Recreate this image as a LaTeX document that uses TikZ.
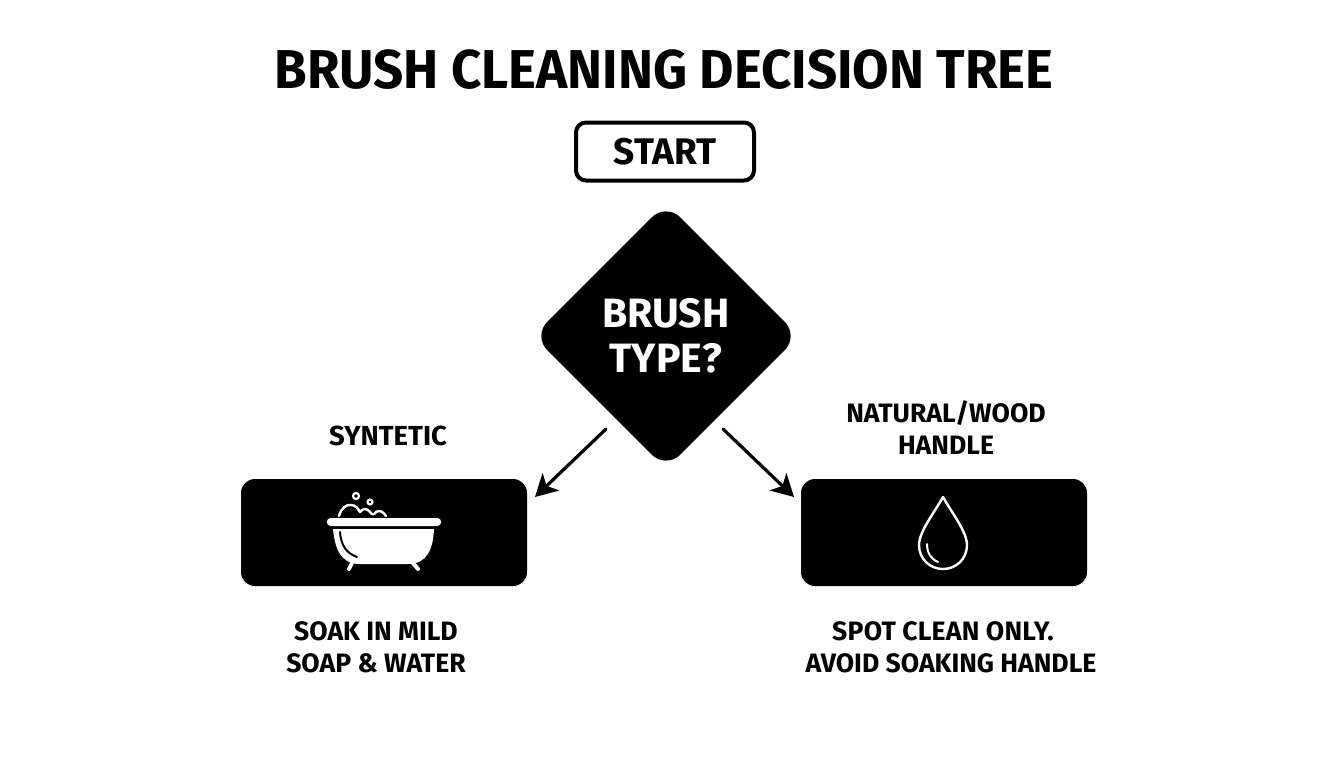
\documentclass[tikz,border=0pt]{standalone}
\usepackage{fontspec}
\setmainfont{Fira Sans}[BoldFont={Fira Sans Bold}]
\usetikzlibrary{shapes.geometric,arrows.meta}
\tikzset{
  lbl/.style={font=\bfseries\fontsize{26.6}{32}\selectfont, text=black, align=center, inner sep=0pt},
  panel/.style={fill=black, rounded corners=14pt, minimum width=286pt, minimum height=107pt, inner sep=0pt},
  conn/.style={line width=3.2pt, line cap=round, -{Stealth[length=22pt,width=24pt,inset=6pt]}},
  ico/.style={draw=white, line width=2.4pt, line cap=round, line join=round}
}
\begin{document}
\begin{tikzpicture}[x=1pt,y=-1pt]
\useasboundingbox (0,0) rectangle (1344,768);
\fill[white] (0,0) rectangle (1344,768);
\node[lbl,font=\bfseries\fontsize{54.7}{60}\selectfont\addfontfeature{FakeStretch=0.966}] (title) at (664,70) {BRUSH CLEANING DECISION TREE};
\node[draw=black,line width=4pt,rounded corners=10pt,minimum width=178pt,minimum height=58pt,inner sep=0pt,font=\bfseries\fontsize{37}{44}\selectfont] (start) at (665,151.5) {START};
\node[diamond,fill=black,rounded corners=20pt,minimum width=266pt,minimum height=266pt,inner sep=0pt,text=white,align=center,font=\bfseries\fontsize{41}{45}\selectfont] (dec) at (666,336) {BRUSH\\TYPE?};
\node[panel] (soak) at (384,532.5) {};
\node[panel] (spot) at (944,532.5) {};
\node[lbl,font=\bfseries\fontsize{27.5}{32}\selectfont] (lsyn) at (388,436) {SYNTETIC};
\node[lbl] (lnat) at (946,428) {NATURAL/WOOD\\HANDLE};
\node[lbl] (tsoak) at (376,647.5) {SOAK IN MILD\\SOAP \& WATER};
\node[lbl] (tspot) at (951,647.5) {{\addfontfeature{LetterSpace=0.8}SPOT CLEAN ONLY.}\hspace*{16pt}\\AVOID SOAKING HANDLE};
\coordinate (a1) at (606,429); \coordinate (a2) at (535,497);
\coordinate (b1) at (723,429); \coordinate (b2) at (794,497);
\draw[conn] (a1) -- (a2);
\draw[conn] (b1) -- (b2);
% bathtub
\fill[white,rounded corners=3.5pt] (327,518) rectangle (441,526);
\fill[white] (333,529) -- (434,529) .. controls (433,548) and (428,564) .. (408,564) -- (360,564) .. controls (340,564) and (335,548) .. (333,529) -- cycle;
\draw[black,line width=2pt,line cap=round] (340,532) .. controls (341,545) and (346,553) .. (357,557);
\draw[ico,line width=4pt] (352,563) -- (349,569);
\draw[ico,line width=4pt] (413,563) -- (418,569);
\draw[ico,line width=2.4pt] (339,516) .. controls (341,508) and (347,504) .. (351,505) .. controls (356,505) and (358,509) .. (360,512) .. controls (363,508) and (367,508) .. (370,512) .. controls (372,515) and (374,515) .. (376,512) .. controls (379,510) and (383,511) .. (386,516);
\draw[ico,line width=2.2pt] (356,496) circle (3pt);
\draw[ico,line width=2.2pt] (370,502) circle (2.5pt);
% drop
\draw[ico] (943,497) .. controls (934,513) and (919,532) .. (919,545) .. controls (919,559) and (930,569) .. (943,569) .. controls (956,569) and (967,559) .. (967,545) .. controls (967,532) and (952,513) .. (943,497) -- cycle;
\draw[ico,line width=2pt] (927,544) .. controls (927,553) and (931,559) .. (938,562);
\end{tikzpicture}
\end{document}
